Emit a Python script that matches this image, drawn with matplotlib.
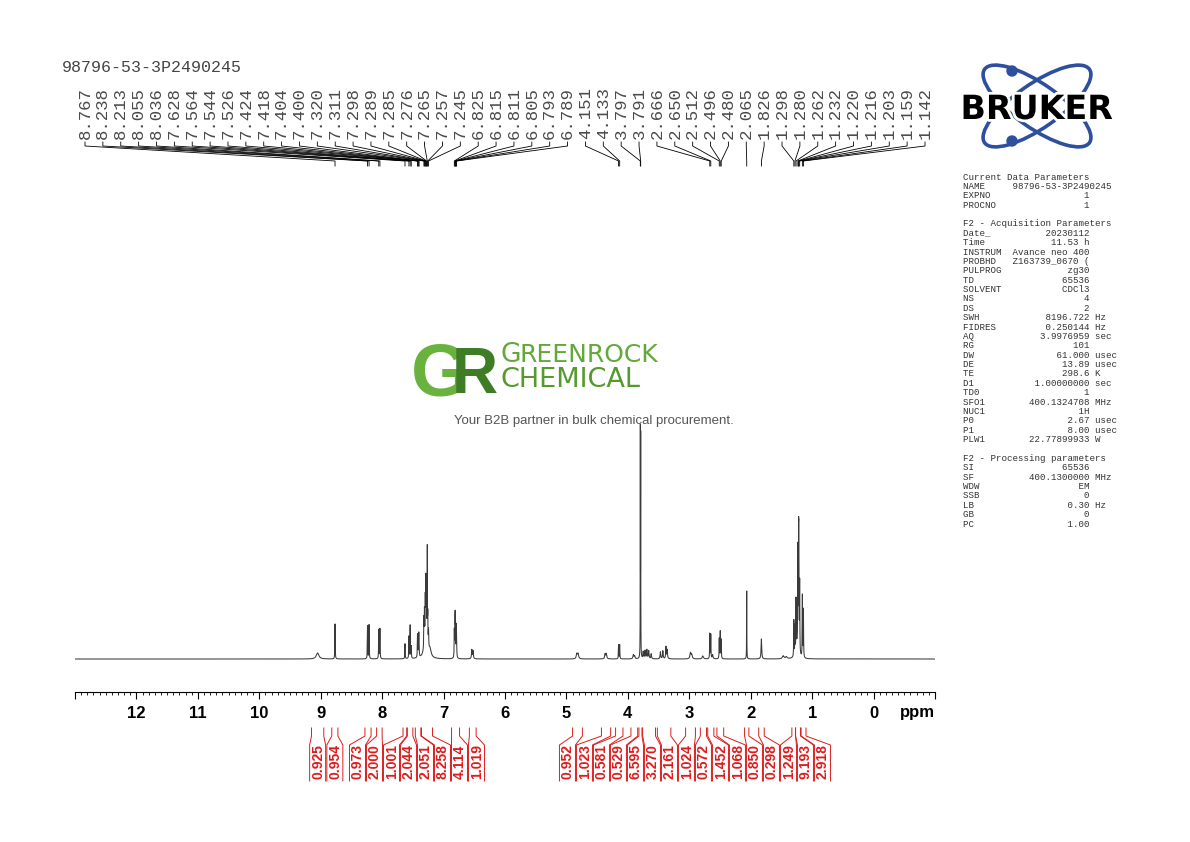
import numpy as np
import matplotlib
matplotlib.use("Agg")
import matplotlib.pyplot as plt
import matplotlib.patheffects as pe
from matplotlib.patches import Ellipse, Circle
from matplotlib.ticker import MultipleLocator

W, H = 1190, 842

# peak list: position (ppm), height (relative), half width (ppm)
peak_ppm = [9.05, 8.767, 8.238, 8.213, 8.055, 8.036, 7.628, 7.564, 7.544, 7.526,
            7.424, 7.418, 7.404, 7.400, 7.320, 7.311, 7.298, 7.289, 7.285, 7.276,
            7.265, 7.257, 7.245, 7.29, 7.22, 6.825, 6.815, 6.811, 6.805, 6.793,
            6.789, 6.54, 6.52, 4.83, 4.81, 4.37, 4.35, 4.151, 4.133, 3.91,
            3.89, 3.797, 3.791, 3.75, 3.72, 3.69, 3.66, 3.62, 3.47, 3.43,
            3.38, 3.36, 2.98, 2.96, 2.78, 2.666, 2.650, 2.62, 2.512, 2.496,
            2.480, 2.065, 1.826, 1.47, 1.42, 1.298, 1.280, 1.262, 1.232, 1.220,
            1.216, 1.203, 1.25, 1.159, 1.142]
peak_height = [6, 35, 33, 34, 29, 30, 15, 22, 33, 12,
               20, 18, 18, 16, 28, 32, 38, 40, 42, 40,
               92, 30, 18, 20, 8, 26, 30, 30, 26, 24,
               22, 9, 8, 5, 5, 5, 5, 14, 14, 4,
               3, 222, 215, 7, 8, 9, 8, 5, 7, 8,
               12, 9, 6, 4, 3, 25, 24, 4, 20, 27,
               19, 68, 20, 3, 2, 36, 28, 50, 100, 95,
               90, 70, 12, 62, 48]
peak_hw = [0.025, 0.003, 0.003, 0.003, 0.003, 0.003, 0.003, 0.003, 0.003, 0.003,
           0.003, 0.003, 0.003, 0.003, 0.003, 0.003, 0.003, 0.003, 0.003, 0.003,
           0.002, 0.003, 0.004, 0.03, 0.02, 0.003, 0.003, 0.003, 0.003, 0.003,
           0.003, 0.006, 0.006, 0.01, 0.01, 0.008, 0.008, 0.003, 0.003, 0.008,
           0.008, 0.0015, 0.0015, 0.006, 0.006, 0.006, 0.006, 0.006, 0.006, 0.006,
           0.005, 0.006, 0.01, 0.01, 0.012, 0.003, 0.003, 0.008, 0.003, 0.003,
           0.003, 0.002, 0.006, 0.015, 0.015, 0.003, 0.003, 0.003, 0.003, 0.003,
           0.003, 0.003, 0.02, 0.003, 0.003]

# picked peaks printed along the top
pick_ppm = [8.767, 8.238, 8.213, 8.055, 8.036, 7.628, 7.564, 7.544, 7.526, 7.424,
            7.418, 7.404, 7.400, 7.320, 7.311, 7.298, 7.289, 7.285, 7.276, 7.265,
            7.257, 7.245, 6.825, 6.815, 6.811, 6.805, 6.793, 6.789, 4.151, 4.133,
            3.797, 3.791, 2.666, 2.650, 2.512, 2.496, 2.480, 2.065, 1.826, 1.298,
            1.280, 1.262, 1.232, 1.220, 1.216, 1.203, 1.159, 1.142]

# integrals: value, region start / end (ppm)
int_values = ["0.925", "0.954", "0.973", "2.000", "1.001", "2.044", "2.051", "8.258",
              "4.114", "1.019", "0.952", "1.023", "0.581", "0.529", "6.595", "3.270",
              "2.161", "1.024", "0.572", "1.452", "1.068", "0.850", "0.298", "1.249",
              "9.193", "2.918"]
int_start = [9.15, 8.82, 8.28, 8.09, 7.66, 7.59, 7.46, 7.36, 6.87, 6.58,
             4.90, 4.43, 4.20, 3.95, 3.82, 3.76, 3.52, 3.06, 2.82, 2.70,
             2.55, 2.10, 1.87, 1.33, 1.27, 1.18]
int_end = [8.95, 8.72, 8.18, 8.00, 7.60, 7.50, 7.37, 7.18, 6.74, 6.47,
           4.74, 4.28, 4.08, 3.84, 3.77, 3.55, 3.30, 2.90, 2.72, 2.60,
           2.44, 2.03, 1.78, 1.27, 1.19, 1.10]

sample_name = "98796-53-3P2490245"
acq_params = [("Date_", "20230112", ""), ("Time", "11.53 h", ""),
              ("INSTRUM", "Avance neo 400", ""), ("PROBHD", "Z163739_0670 (", ""),
              ("PULPROG", "zg30", ""), ("TD", "65536", ""), ("SOLVENT", "CDCl3", ""),
              ("NS", "4", ""), ("DS", "2", ""), ("SWH", "8196.722", "Hz"),
              ("FIDRES", "0.250144", "Hz"), ("AQ", "3.9976959", "sec"),
              ("RG", "101", ""), ("DW", "61.000", "usec"), ("DE", "13.89", "usec"),
              ("TE", "298.6", "K"), ("D1", "1.00000000", "sec"), ("TD0", "1", ""),
              ("SFO1", "400.1324708", "MHz"), ("NUC1", "1H", ""),
              ("P0", "2.67", "usec"), ("P1", "8.00", "usec"),
              ("PLW1", "22.77899933", "W")]
proc_params = [("SI", "65536", ""), ("SF", "400.1300000", "MHz"), ("WDW", "EM", ""),
               ("SSB", "0", ""), ("LB", "0.30", "Hz"), ("GB", "0", ""), ("PC", "1.00", "")]

# ---- layout helpers (figure pixels) ----
X0, X1 = 75, 935          # axis ends in pixels
PPM_L, PPM_R = 13, -1


def ppm_to_px(p):
    return X0 + (PPM_L - p) * (X1 - X0) / (PPM_L - PPM_R)


def spread(pos, gap):
    # push overlapping labels apart, each cluster centred on its mean
    groups = [[p] for p in pos]
    while True:
        starts = [np.mean(g) - gap * (len(g) - 1) / 2 for g in groups]
        merged = False
        for i in range(len(groups) - 1):
            end_i = starts[i] + gap * (len(groups[i]) - 1)
            if starts[i + 1] - end_i < gap:
                groups[i] = groups[i] + groups.pop(i + 1)
                merged = True
                break
        if not merged:
            break
    out = []
    for g, s in zip(groups, starts):
        out += [s + gap * k for k in range(len(g))]
    return out


fig = plt.figure(figsize=(W / 100, H / 100), dpi=100)
fig.patch.set_facecolor("white")

# spectrum axes: baseline at 659 px, axis line at 692 px
ax = fig.add_axes([X0 / W, (H - 692) / H, (X1 - X0) / W, (692 - 60) / H])
ax.set_facecolor("none")
ppm = np.arange(PPM_R, PPM_L, 0.0005)
p = np.array(peak_ppm)[:, None]
h = np.array(peak_height)[:, None]
w = np.array(peak_hw)[:, None]
spec = (h / (1 + ((ppm[None, :] - p) / w) ** 2)).sum(axis=0)
ax.plot(ppm, spec, color="#3a3a3a", lw=0.75)
ax.set_xlim(PPM_L, PPM_R)
ax.set_ylim(-33, 599)

for s in ["top", "left", "right"]:
    ax.spines[s].set_visible(False)
ax.spines["bottom"].set_linewidth(0.8)
ax.yaxis.set_visible(False)
major = list(range(PPM_R, PPM_L + 1))
ax.set_xticks(major)
ax.set_xticklabels(["" if t in (PPM_R, PPM_L) else str(t) for t in major],
                   fontfamily="Liberation Sans", fontweight="bold", fontsize=12)
ax.xaxis.set_minor_locator(MultipleLocator(0.1))
ax.tick_params(axis="x", which="major", direction="out", length=5, width=0.8, pad=5)
ax.tick_params(axis="x", which="minor", direction="out", length=2.2, width=0.6)

# overlay in pixel coordinates for all annotation
ov = fig.add_axes([0, 0, 1, 1], zorder=5)
ov.set_xlim(0, W)
ov.set_ylim(H, 0)
ov.axis("off")

ov.text(917, 712, "ppm", ha="center", va="center", fontfamily="Liberation Sans",
        fontweight="bold", fontsize=12)

ov.text(62, 68, sample_name, fontfamily="Liberation Mono", fontsize=12,
        color="#444444", va="center")

# peak labels and leaders
label_x = np.linspace(85, 925, len(pick_ppm))
for lx, v in zip(label_x, pick_ppm):
    ov.text(lx, 139, f"{v:.3f}", rotation=90, ha="center", va="bottom",
            fontfamily="Liberation Mono", fontsize=12.5, color="#4a4a4a")
    xp = ppm_to_px(v)
    ov.plot([lx, lx, xp, xp], [142, 146, 161, 166], color="black", lw=0.6)

# integrals
red = "#dd1c1c"
xa = [ppm_to_px(s) for s in int_start]
xb = [ppm_to_px(e) for e in int_end]
centers = spread([(a + b) / 2 for a, b in zip(xa, xb)], 17)
for val, a, b, c in zip(int_values, xa, xb, centers):
    ov.plot([a, a, c - 8, c - 8], [728, 736, 745, 781], color=red, lw=0.7)
    ov.plot([b, b, c + 8, c + 8], [728, 736, 745, 781], color=red, lw=0.7)
    ov.text(c + 0.5, 779, val, rotation=90, ha="center", va="bottom", color=red,
            fontfamily="Liberation Sans", fontweight="bold", fontsize=10)

# parameter block
lines = ["Current Data Parameters",
         f"{'NAME':<9}{sample_name}",
         f"{'EXPNO':<8}{'1':>15}",
         f"{'PROCNO':<8}{'1':>15}",
         "",
         "F2 - Acquisition Parameters"]
lines += [f"{n:<8}{v:>15} {u}".rstrip() for n, v, u in acq_params]
lines += ["", "F2 - Processing parameters"]
lines += [f"{n:<8}{v:>15} {u}".rstrip() for n, v, u in proc_params]
for i, line in enumerate(lines):
    ov.text(963, 177 + i * 9.38, line, fontfamily="Liberation Mono", fontsize=6.6,
            color="#333333", va="center", ha="left")

# Bruker logo
blue = "#2d4f9e"
ov.add_patch(Ellipse((1037, 106), 128, 44, angle=35, fill=False, ec=blue, lw=2.6))
ov.add_patch(Ellipse((1037, 106), 128, 44, angle=-35, fill=False, ec=blue, lw=2.6))
ov.add_patch(Circle((1012, 71), 5, color=blue))
ov.add_patch(Circle((1012, 141), 5, color=blue))
ov.text(1037, 119, "BRUKER", ha="center", va="baseline", fontfamily="DejaVu Sans",
        fontweight="bold", fontsize=24, color="black",
        path_effects=[pe.withStroke(linewidth=4, foreground="white")])

# Greenrock watermark
ov.text(411, 395, "G", ha="left", va="baseline", fontfamily="Liberation Sans",
        fontweight="bold", fontsize=54, color="#6ab23e")
ov.text(452, 393, "R", ha="left", va="baseline", fontfamily="Liberation Sans",
        fontweight="bold", fontsize=46, color="#3e7d26")
ov.text(501, 362, "G", ha="left", va="baseline", fontfamily="DejaVu Sans",
        fontsize=19, color="#62a83a")
ov.text(520, 362, "REENROCK", ha="left", va="baseline", fontfamily="DejaVu Sans",
        fontsize=18, color="#62a83a")
ov.text(501, 387, "CHEMICAL", ha="left", va="baseline", fontfamily="DejaVu Sans",
        fontsize=19.5, color="#55992f")
ov.text(594, 421, "Your B2B partner in bulk chemical procurement.", ha="center",
        va="center", fontfamily="Liberation Sans", fontsize=9.5, color="#555555")

fig.savefig("out.png", dpi=100)
